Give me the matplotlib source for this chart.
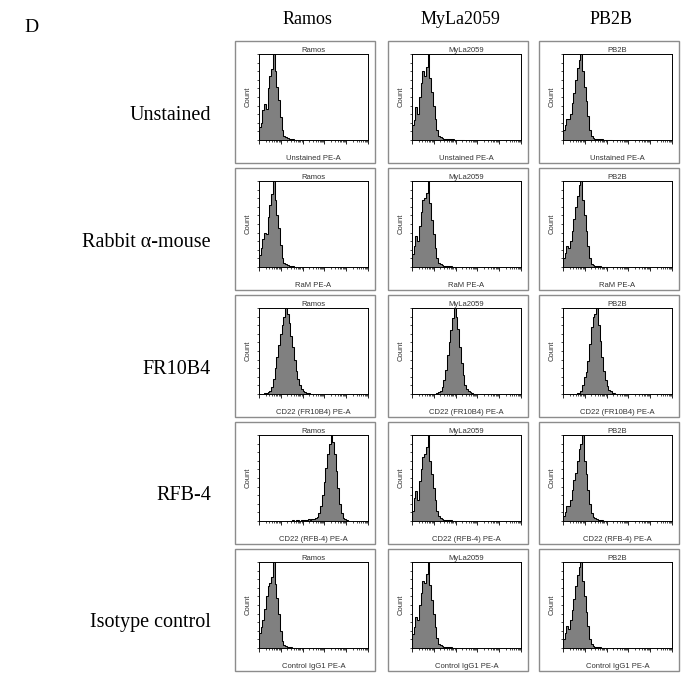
import numpy as np
import matplotlib
matplotlib.use("Agg")
import matplotlib.pyplot as plt
from matplotlib.patches import Rectangle

# column / row names
cell_lines = ["Ramos", "MyLa2059", "PB2B"]
row_labels = ["Unstained", "Rabbit α-mouse", "FR10B4", "RFB-4", "Isotype control"]
x_labels = ["Unstained PE-A", "RaM PE-A", "CD22 (FR10B4) PE-A",
            "CD22 (RFB-4) PE-A", "Control IgG1 PE-A"]

# histogram counts (normalised to max bin), bins of 0.08 decade
bin_width = 0.08

ramos_unstained = [0.15, 0.2, 0.35, 0.42, 0.36, 0.6, 0.75, 0.82, 1.0, 0.8, 0.62, 0.46, 0.27,
                   0.12, 0.05, 0.03, 0.02, 0.015, 0.01, 0.01, 0.005, 0.005]
ramos_ram = [0.14, 0.22, 0.33, 0.4, 0.38, 0.58, 0.72, 0.85, 1.0, 0.78, 0.6, 0.45, 0.26,
             0.11, 0.05, 0.03, 0.02, 0.012, 0.01, 0.008, 0.005, 0.005]
ramos_fr10b4 = [0.01, 0.01, 0.02, 0.04, 0.08, 0.17, 0.3, 0.43, 0.57, 0.7, 0.8, 0.9, 1.0,
                0.93, 0.82, 0.68, 0.55, 0.4, 0.27, 0.17, 0.1, 0.06, 0.03, 0.02, 0.01, 0.01]
ramos_rfb4 = [0.005, 0.005, 0.0, 0.005, 0.01, 0.005, 0.01, 0.01, 0.005, 0.01, 0.01, 0.015,
              0.01, 0.02, 0.015, 0.02, 0.02, 0.03, 0.05, 0.09, 0.18, 0.3, 0.45, 0.62, 0.78,
              0.9, 1.0, 0.92, 0.78, 0.58, 0.38, 0.2, 0.09, 0.04, 0.02, 0.01]
ramos_isotype = [0.17, 0.24, 0.33, 0.45, 0.6, 0.72, 0.76, 0.82, 1.0, 0.74, 0.58, 0.39, 0.2,
                 0.08, 0.04, 0.02, 0.015, 0.01, 0.008, 0.005, 0.005]

myla_unstained = [0.17, 0.23, 0.38, 0.3, 0.5, 0.66, 0.8, 0.75, 0.85, 1.0, 0.72, 0.56, 0.4,
                  0.24, 0.12, 0.05, 0.03, 0.02, 0.015, 0.01, 0.01, 0.01, 0.008, 0.006,
                  0.005, 0.005, 0.004, 0.004, 0.003, 0.003]
myla_ram = [0.15, 0.25, 0.36, 0.3, 0.48, 0.64, 0.78, 0.8, 0.86, 1.0, 0.74, 0.55, 0.38,
            0.22, 0.11, 0.05, 0.03, 0.02, 0.012, 0.01, 0.01, 0.008, 0.006, 0.005, 0.004]
myla_fr10b4 = [0.005, 0.01, 0.02, 0.04, 0.08, 0.16, 0.28, 0.45, 0.6, 0.74, 0.88, 1.0, 0.9,
               0.76, 0.55, 0.36, 0.22, 0.1, 0.06, 0.04, 0.02, 0.01, 0.005]
myla_rfb4 = [0.12, 0.27, 0.35, 0.24, 0.47, 0.6, 0.74, 0.78, 0.86, 1.0, 0.7, 0.55, 0.38,
             0.24, 0.12, 0.06, 0.03, 0.02, 0.012, 0.01, 0.01, 0.008, 0.006, 0.005, 0.005,
             0.004, 0.004, 0.003, 0.003, 0.003]
myla_isotype = [0.16, 0.24, 0.36, 0.32, 0.5, 0.64, 0.78, 0.76, 0.86, 1.0, 0.73, 0.56, 0.4,
                0.24, 0.12, 0.05, 0.03, 0.02, 0.015, 0.01, 0.01, 0.008, 0.006, 0.005, 0.005]

pb2b_unstained = [0.12, 0.18, 0.25, 0.24, 0.3, 0.43, 0.55, 0.7, 0.84, 0.93, 1.0, 0.8, 0.62,
                  0.45, 0.28, 0.12, 0.05, 0.025, 0.015, 0.01, 0.01, 0.008, 0.006, 0.005,
                  0.005, 0.004, 0.004, 0.003]
pb2b_ram = [0.1, 0.16, 0.24, 0.22, 0.3, 0.42, 0.56, 0.7, 0.82, 0.95, 1.0, 0.78, 0.6, 0.42,
            0.25, 0.1, 0.04, 0.02, 0.012, 0.01, 0.008, 0.006, 0.005, 0.005, 0.004]
pb2b_fr10b4 = [0.01, 0.015, 0.04, 0.1, 0.2, 0.26, 0.38, 0.58, 0.78, 0.9, 0.93, 1.0, 0.8,
               0.62, 0.43, 0.27, 0.16, 0.09, 0.05, 0.03, 0.015, 0.01, 0.005]
pb2b_rfb4 = [0.06, 0.1, 0.18, 0.18, 0.24, 0.36, 0.48, 0.56, 0.7, 0.84, 0.9, 1.0, 0.7, 0.55,
             0.36, 0.2, 0.09, 0.05, 0.03, 0.02, 0.01, 0.008, 0.006, 0.005, 0.005, 0.004]
pb2b_isotype = [0.11, 0.17, 0.26, 0.22, 0.32, 0.44, 0.57, 0.72, 0.85, 0.94, 1.0, 0.78, 0.6,
                0.42, 0.26, 0.11, 0.05, 0.025, 0.015, 0.01, 0.008, 0.006, 0.005, 0.005]

# first bin edge of each histogram (log10 units)
starts = [[0.0, 0.0, 0.0],
          [0.0, 0.0, 0.0],
          [0.24, 1.04, 0.64],
          [1.2, 0.0, 0.0],
          [0.0, 0.0, 0.0]]

grid = [[ramos_unstained, myla_unstained, pb2b_unstained],
        [ramos_ram, myla_ram, pb2b_ram],
        [ramos_fr10b4, myla_fr10b4, pb2b_fr10b4],
        [ramos_rfb4, myla_rfb4, pb2b_rfb4],
        [ramos_isotype, myla_isotype, pb2b_isotype]]

W, H = 700, 674
fig = plt.figure(figsize=(W / 100, H / 100), dpi=100)

serif = "Liberation Serif"
sans = "Liberation Sans"

box_left = [235, 388, 539]
box_top = [41, 168, 295, 422, 549]
box_w, box_h = 140, 122


def fx(px):
    return px / W


def fy(py):
    return 1 - py / H


fig.text(fx(24), fy(27), "D", family=serif, fontsize=14, ha="left", va="center")
for c, name in enumerate(cell_lines):
    fig.text(fx(box_left[c] + box_w / 2 + 2), fy(20), name, family=serif, fontsize=13,
             ha="center", va="center")
for r, lab in enumerate(row_labels):
    fig.text(fx(211), fy(box_top[r] + 74), lab, family=serif, fontsize=14.5,
             ha="right", va="center")

minor = [d + np.log10(m) for d in range(5) for m in range(2, 10)]

for r in range(5):
    for c in range(3):
        bl, bt = box_left[c], box_top[r]
        fig.patches.append(Rectangle((fx(bl), fy(bt + box_h)), fx(box_w), box_h / H,
                                     transform=fig.transFigure, fill=False,
                                     edgecolor="#8c8c8c", linewidth=1.0))
        ax = fig.add_axes([fx(bl + 24), fy(bt + 99), fx(109), 86 / H])
        counts = np.array(grid[r][c])
        edges = starts[r][c] + bin_width * np.arange(len(counts) + 1)
        ax.stairs(counts, edges, fill=True, color="#808080", linewidth=0)
        ax.stairs(counts, edges, color="black", linewidth=0.75)
        ax.set_xlim(0, 5)
        ax.set_ylim(0, 1.0)
        ax.set_xticks(range(6))
        ax.set_xticks(minor, minor=True)
        ax.set_yticks(np.arange(0, 1.01, 0.1))
        ax.tick_params(axis="x", which="major", length=3, width=0.6, labelbottom=False)
        ax.tick_params(axis="x", which="minor", length=1.5, width=0.5)
        ax.tick_params(axis="y", length=1.5, width=0.5, labelleft=False)
        for s in ax.spines.values():
            s.set_linewidth(0.7)
        ax.set_title(cell_lines[c], family=sans, fontsize=5.5, pad=1.5, color="#333333")
        ax.set_xlabel(x_labels[r], family=sans, fontsize=5.5, labelpad=6, color="#333333")
        ax.set_ylabel("Count", family=sans, fontsize=5.5, labelpad=4, color="#333333")

fig.savefig("out.png", dpi=100)
